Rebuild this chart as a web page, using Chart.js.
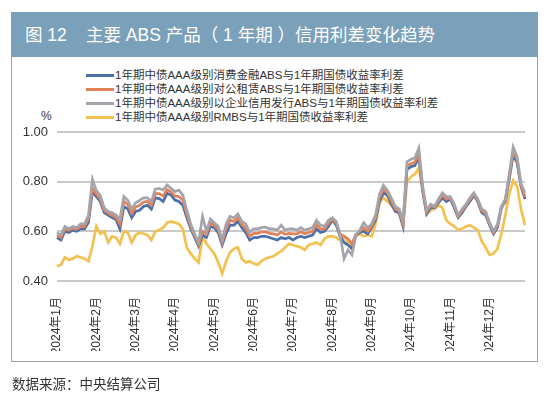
<!DOCTYPE html>
<html lang="zh-CN">
<head>
<meta charset="utf-8">
<title>图12 主要ABS产品（1年期）信用利差变化趋势</title>
<script src="https://cdn.jsdelivr.net/npm/chart.js@4.4.0/dist/chart.umd.min.js"></script>
<style>
    html, body { margin: 0; padding: 0; background: #fff; }
    body {
        width: 550px; height: 395px; position: relative; overflow: hidden;
        font-family: "Liberation Sans", "Noto Sans CJK SC", sans-serif; color: #333;
    }
    .titulo {
        position: absolute; left: 11px; top: 12px; width: 527px; height: 45px;
        background: #7aa0ba; color: #fff; font-size: 17.5px; line-height: 46px;
    }
    .titulo .num { position: absolute; left: 14px; }
    .titulo .txt { position: absolute; left: 75px; }
    .marco {
        position: absolute; left: 11px; top: 57px; width: 525px; height: 304px;
        border: 1px solid #a0a0a0; border-top: none;
    }
    #leyenda { position: absolute; left: 86px; top: 68px; font-size: 11.5px; }
    #leyenda .fila { height: 14px; line-height: 14px; white-space: nowrap; }
    #leyenda .linea { display: inline-block; width: 28px; height: 3px; vertical-align: middle; margin-right: 1px; }
    .unidad { position: absolute; left: 41px; top: 109px; font-size: 12px; }
    .fuente { position: absolute; left: 12px; top: 373px; font-size: 13.5px; color: #333; }
    #grafico { position: absolute; left: 0; top: 0; }
</style>
</head>
<body>
<div class="titulo"><span class="num">图 12</span><span class="txt">主要 ABS 产品（ 1 年期 ）信用利差变化趋势</span></div>
<div class="marco"></div>
<div id="leyenda"></div>
<div class="unidad">%</div>
<canvas id="grafico" width="550" height="395"></canvas>
<div class="fuente">数据来源：中央结算公司</div>

<script>
// Meses del eje (10 puntos por mes)
const meses = ['2024年1月', '2024年2月', '2024年3月', '2024年4月', '2024年5月', '2024年6月',
    '2024年7月', '2024年8月', '2024年9月', '2024年10月', '2024年11月', '2024年12月'];
const puntosPorMes = 10;

const nombres = [
    '1年期中债AAA级别消费金融ABS与1年期国债收益率利差',
    '1年期中债AAA级别对公租赁ABS与1年期国债收益率利差',
    '1年期中债AAA级别以企业信用发行ABS与1年期国债收益率利差',
    '1年期中债AAA级别RMBS与1年期国债收益率利差'
];
const colores = ['#4b6fa9', '#e2825a', '#a4a4ac', '#f2c14f'];

// Consumo (azul)
const serieConsumo = [
    0.575, 0.565, 0.60, 0.595, 0.605, 0.60, 0.61, 0.61, 0.635, 0.76,
    0.74, 0.72, 0.675, 0.665, 0.655, 0.648, 0.61, 0.70, 0.69, 0.655,
    0.68, 0.685, 0.70, 0.705, 0.69, 0.735, 0.732, 0.72, 0.753, 0.746,
    0.726, 0.72, 0.705, 0.655, 0.61, 0.575, 0.54, 0.585, 0.575, 0.62,
    0.615, 0.595, 0.545, 0.59, 0.625, 0.625, 0.64, 0.615, 0.595, 0.565,
    0.575, 0.575, 0.58, 0.58, 0.575, 0.57, 0.565, 0.575, 0.57, 0.575,
    0.565, 0.575, 0.58, 0.575, 0.58, 0.585, 0.61, 0.595, 0.60, 0.62,
    0.645, 0.625, 0.58, 0.555, 0.545, 0.53, 0.585, 0.595, 0.60, 0.59,
    0.615, 0.645, 0.72, 0.755, 0.745, 0.71, 0.68, 0.675, 0.62, 0.85,
    0.86, 0.865, 0.90, 0.76, 0.67, 0.695, 0.695, 0.715, 0.735, 0.72,
    0.73, 0.695, 0.655, 0.675, 0.70, 0.72, 0.745, 0.72, 0.675, 0.665,
    0.625, 0.59, 0.615, 0.695, 0.72, 0.81, 0.91, 0.875, 0.78, 0.73
];

// Arrendamiento (naranja)
const serieAlquiler = [
    0.585, 0.575, 0.61, 0.605, 0.612, 0.608, 0.62, 0.62, 0.65, 0.775,
    0.75, 0.73, 0.685, 0.672, 0.665, 0.657, 0.63, 0.72, 0.708, 0.672,
    0.698, 0.705, 0.718, 0.72, 0.705, 0.752, 0.752, 0.742, 0.768, 0.758,
    0.742, 0.74, 0.725, 0.67, 0.62, 0.583, 0.548, 0.60, 0.588, 0.635,
    0.625, 0.607, 0.555, 0.61, 0.645, 0.64, 0.655, 0.628, 0.612, 0.58,
    0.592, 0.592, 0.598, 0.598, 0.592, 0.59, 0.585, 0.598, 0.588, 0.592,
    0.59, 0.59, 0.598, 0.59, 0.595, 0.60, 0.628, 0.61, 0.61, 0.632,
    0.65, 0.632, 0.59, 0.58, 0.57, 0.55, 0.588, 0.60, 0.615, 0.60,
    0.62, 0.655, 0.735, 0.77, 0.755, 0.722, 0.69, 0.682, 0.63, 0.865,
    0.872, 0.878, 0.915, 0.77, 0.678, 0.702, 0.698, 0.722, 0.745, 0.73,
    0.735, 0.702, 0.66, 0.682, 0.705, 0.728, 0.75, 0.725, 0.682, 0.672,
    0.63, 0.595, 0.622, 0.698, 0.725, 0.82, 0.925, 0.888, 0.785, 0.74
];

// Crédito empresarial (gris)
const serieEmpresa = [
    0.595, 0.585, 0.62, 0.61, 0.62, 0.615, 0.63, 0.63, 0.665, 0.81,
    0.765, 0.745, 0.695, 0.68, 0.675, 0.665, 0.65, 0.74, 0.725, 0.69,
    0.715, 0.725, 0.735, 0.735, 0.72, 0.77, 0.773, 0.766, 0.787, 0.773,
    0.76, 0.766, 0.746, 0.685, 0.63, 0.59, 0.555, 0.66, 0.60, 0.65,
    0.635, 0.62, 0.565, 0.63, 0.66, 0.655, 0.67, 0.64, 0.63, 0.595,
    0.61, 0.61, 0.615, 0.617, 0.61, 0.61, 0.605, 0.625, 0.605, 0.61,
    0.61, 0.605, 0.615, 0.605, 0.61, 0.615, 0.645, 0.625, 0.62, 0.645,
    0.655, 0.64, 0.585, 0.49, 0.525, 0.505, 0.585, 0.605, 0.635, 0.615,
    0.63, 0.665, 0.75, 0.785, 0.765, 0.735, 0.70, 0.69, 0.64, 0.88,
    0.89, 0.895, 0.935, 0.78, 0.685, 0.71, 0.70, 0.73, 0.755, 0.74,
    0.74, 0.71, 0.665, 0.69, 0.71, 0.735, 0.755, 0.73, 0.69, 0.68,
    0.635, 0.60, 0.63, 0.70, 0.73, 0.83, 0.94, 0.90, 0.79, 0.755
];

// RMBS (amarillo)
const serieRMBS = [
    0.46, 0.465, 0.495, 0.485, 0.49, 0.50, 0.495, 0.49, 0.48, 0.54,
    0.62, 0.59, 0.60, 0.555, 0.58, 0.575, 0.55, 0.60, 0.595, 0.555,
    0.585, 0.595, 0.59, 0.585, 0.565, 0.60, 0.605, 0.615, 0.635, 0.64,
    0.635, 0.63, 0.61, 0.535, 0.51, 0.49, 0.475, 0.58, 0.55, 0.53,
    0.51, 0.475, 0.43, 0.48, 0.515, 0.53, 0.535, 0.49, 0.475, 0.48,
    0.47, 0.465, 0.48, 0.49, 0.495, 0.50, 0.51, 0.52, 0.535, 0.55,
    0.545, 0.54, 0.535, 0.525, 0.545, 0.55, 0.555, 0.545, 0.57, 0.58,
    0.58, 0.575, 0.565, 0.58, 0.555, 0.535, 0.58, 0.59, 0.58, 0.585,
    0.58, 0.63, 0.715, 0.735, 0.72, 0.705, 0.69, 0.67, 0.62, 0.80,
    0.82, 0.83, 0.855, 0.76, 0.67, 0.685, 0.69, 0.705, 0.695, 0.645,
    0.63, 0.62, 0.605, 0.61, 0.62, 0.625, 0.615, 0.605, 0.56, 0.535,
    0.505, 0.51, 0.53, 0.59, 0.665, 0.75, 0.805, 0.78, 0.69, 0.625
];

const series = [serieConsumo, serieAlquiler, serieEmpresa, serieRMBS];
// Orden de dibujo: gris encima, amarillo debajo
const ordenDibujo = [3, 2, 1, 4];

// Etiquetas: solo el primer punto de cada mes lleva texto
const etiquetas = [];
meses.forEach(m => {
    for (let k = 0; k < puntosPorMes; k++) etiquetas.push(k === 0 ? m : '');
});

// Leyenda en HTML (alineada a la izquierda como el original)
const leyenda = document.getElementById('leyenda');
nombres.forEach((n, i) => {
    const fila = document.createElement('div');
    fila.className = 'fila';
    fila.innerHTML = '<span class="linea" style="background:' + colores[i] + '"></span>' + n;
    leyenda.appendChild(fila);
});

new Chart(document.getElementById('grafico'), {
    type: 'line',
    data: {
        labels: etiquetas,
        datasets: series.map((s, i) => ({
            label: nombres[i],
            data: s,
            borderColor: colores[i],
            backgroundColor: colores[i],
            borderWidth: 2.7,
            pointRadius: 0,
            tension: 0,
            order: ordenDibujo[i]
        }))
    },
    options: {
        responsive: false,
        animation: false,
        layout: { padding: { left: 17, right: 25, top: 132, bottom: 44 } },
        plugins: {
            legend: { display: false },
            tooltip: { enabled: false }
        },
        scales: {
            x: {
                grid: { display: false },
                border: { display: false },
                ticks: {
                    autoSkip: false,
                    minRotation: 90,
                    maxRotation: 90,
                    padding: 8,
                    color: '#333',
                    font: { family: '"Liberation Sans", "Noto Sans CJK SC"', size: 12 },
                    callback: (v, i) => etiquetas[i]
                },
                afterFit: s => { s.height = 70; }
            },
            y: {
                min: 0.4,
                max: 1.0,
                border: { display: false },
                grid: { color: '#c9c9c9', lineWidth: 2, drawTicks: false },
                ticks: {
                    stepSize: 0.2,
                    padding: 9,
                    color: '#333',
                    font: { family: '"Liberation Sans", "Noto Sans CJK SC"', size: 13 },
                    callback: v => v.toFixed(2)
                },
                afterFit: s => { s.width = 40; }
            }
        }
    }
});
</script>
</body>
</html>
